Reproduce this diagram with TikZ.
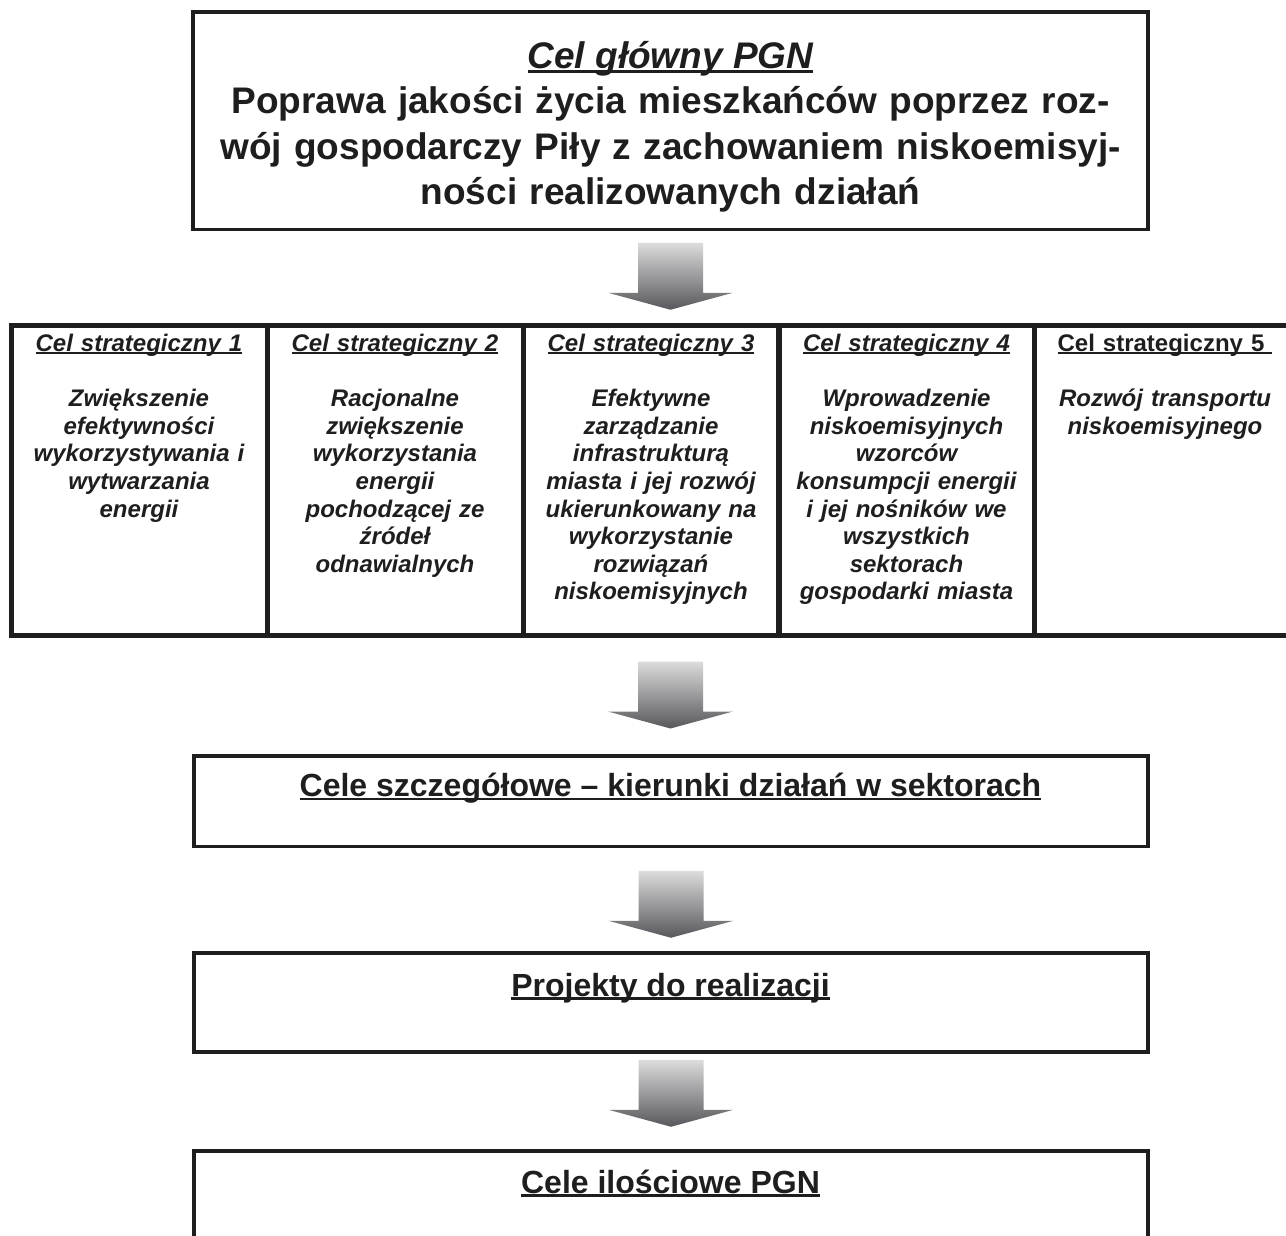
\documentclass[tikz,border=0pt]{standalone}
\usepackage{fontspec}
\setmainfont{Liberation Sans}
\usetikzlibrary{calc}
\definecolor{ink}{HTML}{1E1E1E}
\definecolor{arrtop}{HTML}{DCDCDC}
\definecolor{arrbot}{HTML}{58585C}
\newcommand\myul[1]{\setbox0\hbox{#1}\rlap{\rule[-0.11em]{\wd0}{0.07em}}\box0}
\begin{document}
\begin{tikzpicture}[x=1pt,y=-1pt,
  box/.style={draw=ink, line width=3.5pt, rectangle, inner sep=0pt},
  sbox/.style={draw=ink, line width=5pt, rectangle, inner sep=0pt, minimum width=256, minimum height=310},
  stext/.style={text=ink, font=\fontsize{24}{27.6}\selectfont\bfseries\itshape, text width=250pt, align=center, anchor=base, inner sep=0pt},
  btext/.style={text=ink, font=\fontsize{32}{38}\selectfont\bfseries, anchor=base, inner sep=0pt},
  blockarrow/.pic={\shade[top color=arrtop, bottom color=arrbot] (-32.5,0) -- (32.5,0) -- (32.5,50) -- (62.5,50) -- (0,67) -- (-62.5,50) -- (-32.5,50) -- cycle;}
]
\useasboundingbox[fill=white] (0,0) rectangle (1286,1236);

% main goal
\node (top) [box, minimum width=955, minimum height=217.5] at (670.5,120.75) {};
\node (title) [text=ink, font=\fontsize{37}{45.5}\selectfont\bfseries\itshape, anchor=base, inner sep=0pt] at (670.5,69) {\myul{Cel główny PGN}};
\node (goal) [text=ink, font=\fontsize{37}{45.5}\selectfont\bfseries, text width=950pt, align=center, anchor=base, inner sep=0pt] at (670.5,114)
  {Poprawa jakości życia mieszkańców poprzez roz-\\wój gospodarczy Piły z zachowaniem niskoemisyj-\\ności realizowanych działań};

% strategic goals
\node (s1) [sbox] at (139.25,480) {};
\node (s2) [sbox] at (395,480) {};
\node (s3) [sbox] at (651,480) {};
\node (s4) [sbox] at (906.5,480) {};
\node (s5) [sbox] at (1162,480) {};

\node (s1t) [stext] at (139,351.5) {\myul{Cel strategiczny 1}\\[27.6pt]Zwiększenie\\efektywności\\wykorzystywania i\\wytwarzania\\energii};
\node (s2t) [stext] at (395,351.5) {\myul{Cel strategiczny 2}\\[27.6pt]Racjonalne\\zwiększenie\\wykorzystania\\energii\\pochodzącej ze\\źródeł\\odnawialnych};
\node (s3t) [stext] at (651,351.5) {\myul{Cel strategiczny 3}\\[27.6pt]Efektywne\\zarządzanie\\infrastrukturą\\miasta i jej rozwój\\ukierunkowany na\\wykorzystanie\\rozwiązań\\niskoemisyjnych};
\node (s4t) [stext] at (906.5,351.5) {\myul{Cel strategiczny 4}\\[27.6pt]Wprowadzenie\\niskoemisyjnych\\wzorców\\konsumpcji energii\\i jej nośników we\\wszystkich\\sektorach\\gospodarki miasta};
\node (s5t) [stext] at (1165,351.5) {{\upshape\myul{Cel strategiczny 5\ }}\\[27.6pt]Rozwój transportu\\niskoemisyjnego};

% lower boxes
\node (b1) [box, minimum width=954, minimum height=90.5] at (671,801.25) {};
\node (b1t) [btext] at (670.5,796.5) {\myul{Cele szczegółowe – kierunki działań w sektorach}};
\node (b2) [box, minimum width=954, minimum height=99] at (671,1002.5) {};
\node (b2t) [btext] at (670.5,996) {\myul{Projekty do realizacji}};
\node (b3) [box, minimum width=954, minimum height=149] at (671,1225.5) {};
\node (b3t) [btext] at (670.5,1193) {\myul{Cele ilościowe PGN}};

% block arrows
\pic at ($(top.south)+(0,11.5)$) {blockarrow};
\pic at ($(s3.south -| top.south)+(0,24)$) {blockarrow};
\pic at ($(b1.south)+(0,22.5)$) {blockarrow};
\pic at ($(b2.south)+(0,6)$) {blockarrow};
\end{tikzpicture}
\end{document}
